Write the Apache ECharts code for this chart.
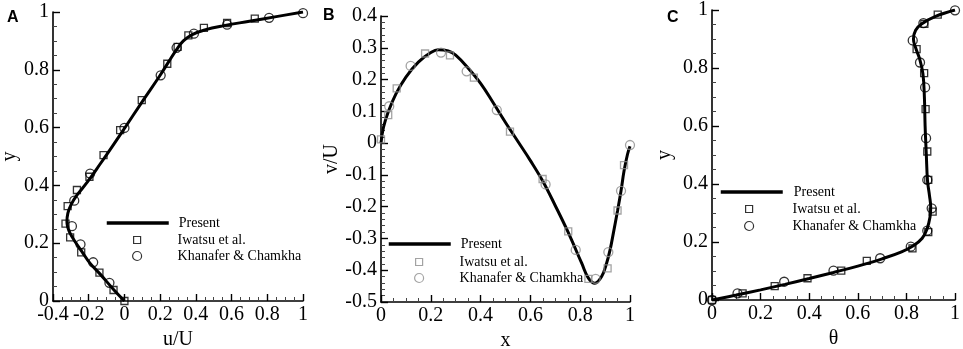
<!DOCTYPE html>
<html>
<head>
<meta charset="utf-8">
<script src="https://cdn.jsdelivr.net/npm/echarts@6/dist/echarts.min.js"></script>
<style>
  html, body { margin: 0; padding: 0; background: #fff; }
  #chart { width: 963px; height: 349px; }
</style>
</head>
<body>
<div id="chart"></div>
<script>
// panel A: u/U against y
const presentA = [[0, 0], [-0.061, 0.04], [-0.136, 0.093], [-0.192, 0.13], [-0.238, 0.171], [-0.276, 0.205], [-0.304, 0.234], [-0.318, 0.257], [-0.322, 0.274], [-0.317, 0.303], [-0.3, 0.332], [-0.266, 0.366], [-0.207, 0.412], [-0.136, 0.474], [-0.061, 0.541], [0, 0.597], [0.1, 0.69], [0.2, 0.781], [0.25, 0.83], [0.29, 0.868], [0.33, 0.9], [0.38, 0.922], [0.45, 0.938], [0.55, 0.952], [0.7, 0.968], [0.85, 0.984], [1, 1]]
const iwatsuA = [[0, 0], [-0.061, 0.038], [-0.14, 0.098], [-0.242, 0.168], [-0.304, 0.22], [-0.33, 0.268], [-0.318, 0.328], [-0.266, 0.384], [-0.196, 0.43], [-0.117, 0.505], [-0.024, 0.591], [0.097, 0.695], [0.24, 0.821], [0.298, 0.879], [0.358, 0.919], [0.445, 0.945], [0.575, 0.962], [0.73, 0.977]]
const khanaferA = [[-0.084, 0.063], [-0.175, 0.134], [-0.246, 0.196], [-0.294, 0.259], [-0.281, 0.347], [-0.192, 0.441], [0, 0.599], [0.203, 0.781], [0.292, 0.876], [0.389, 0.925], [0.575, 0.956], [0.81, 0.98], [1, 0.996]]

// panel B: x against v/U
const presentB = [[0, 0], [0.01, 0.05], [0.03, 0.1], [0.06, 0.155], [0.1, 0.208], [0.15, 0.255], [0.2, 0.285], [0.23, 0.294], [0.27, 0.29], [0.3, 0.277], [0.35, 0.236], [0.4, 0.188], [0.45, 0.128], [0.5, 0.065], [0.55, 0.005], [0.6, -0.055], [0.65, -0.12], [0.7, -0.197], [0.75, -0.278], [0.806, -0.378], [0.833, -0.425], [0.859, -0.441], [0.886, -0.42], [0.906, -0.378], [0.92, -0.336], [0.933, -0.284], [0.95, -0.213], [0.964, -0.15], [0.976, -0.088], [0.99, -0.035], [1, -0.01]]
const iwatsuB = [[0, 0.012], [0.029, 0.088], [0.063, 0.172], [0.177, 0.282], [0.277, 0.276], [0.373, 0.206], [0.518, 0.036], [0.649, -0.113], [0.752, -0.278], [0.833, -0.427], [0.91, -0.394], [0.95, -0.212], [0.976, -0.069]]
const khanaferB = [[0.033, 0.116], [0.119, 0.243], [0.241, 0.285], [0.344, 0.226], [0.465, 0.104], [0.661, -0.13], [0.782, -0.336], [0.862, -0.427], [0.913, -0.343], [0.964, -0.15], [1, -0.006]]

// panel C: theta against y
const presentC = [[0, 0], [0.1, 0.017], [0.2, 0.035], [0.3, 0.054], [0.4, 0.074], [0.5, 0.095], [0.6, 0.117], [0.7, 0.142], [0.78, 0.166], [0.83, 0.188], [0.865, 0.213], [0.885, 0.245], [0.897, 0.285], [0.9, 0.32], [0.895, 0.36], [0.887, 0.41], [0.882, 0.5], [0.877, 0.6], [0.874, 0.7], [0.868, 0.78], [0.855, 0.83], [0.838, 0.87], [0.829, 0.9], [0.838, 0.93], [0.862, 0.952], [0.92, 0.978], [1, 1]]
const iwatsuC = [[0, 0], [0.126, 0.023], [0.258, 0.048], [0.393, 0.075], [0.532, 0.101], [0.637, 0.135], [0.825, 0.178], [0.89, 0.234], [0.908, 0.305], [0.89, 0.414], [0.886, 0.512], [0.879, 0.658], [0.873, 0.782], [0.842, 0.865], [0.874, 0.952], [0.929, 0.984]]
const khanaferC = [[0, 0], [0.105, 0.023], [0.297, 0.063], [0.5, 0.101], [0.692, 0.144], [0.818, 0.184], [0.886, 0.239], [0.904, 0.316], [0.886, 0.414], [0.881, 0.558], [0.877, 0.733], [0.856, 0.819], [0.826, 0.895], [0.87, 0.955], [1, 0.999]]

const seriesNames = ['Present', 'Iwatsu et al.', 'Khanafer & Chamkha']
const panelLetters = ['A', 'B', 'C']
const xNames = ['u/U', 'x', 'θ']
const yNames = ['y', 'v/U', 'y']

const serif = 'Liberation Serif'

function makeAxis(min, max, interval, name, nameGap, minorSplit) {
  return {
    type: 'value',
    min: min,
    max: max,
    interval: interval,
    name: name,
    nameLocation: 'middle',
    nameGap: nameGap,
    nameTextStyle: { fontFamily: serif, fontSize: 20, color: '#000' },
    axisLine: { show: true, onZero: false, lineStyle: { color: '#000', width: 1.6 } },
    axisTick: { show: true, inside: true, length: 7, lineStyle: { color: '#000', width: 1.4 } },
    minorTick: { show: true, splitNumber: minorSplit, length: 4, lineStyle: { color: '#444', width: 1 } },
    splitLine: { show: false },
    axisLabel: {
      fontFamily: serif,
      fontSize: 20,
      color: '#000',
      margin: 4,
      showMinLabel: true,
      showMaxLabel: true,
      hideOverlap: false
    }
  }
}

function legendRow(name, left, top, size, padLeft, itemStyle) {
  const item = { name: name }
  if (itemStyle) item.itemStyle = itemStyle
  return {
    data: [item],
    left: left,
    top: top,
    orient: 'vertical',
    padding: 0,
    itemWidth: size[0],
    itemHeight: size[1],
    selectedMode: false,
    lineStyle: { width: 3.5 },
    textStyle: { fontFamily: serif, fontSize: 14, color: '#000', lineHeight: 16, padding: [0, 0, 0, padLeft] }
  }
}

const grids = [
  { left: 53, top: 12, width: 250, height: 289 },
  { left: 381, top: 16, width: 249, height: 286 },
  { left: 712, top: 10, width: 243, height: 290 }
]

// legend placement: line start, symbol centre, text start, row centres
const legendPos = [
  { line: 105, sym: 136, text: 177, rows: [223, 240, 256], color: null },
  { line: 387, sym: 418, text: 459, rows: [244, 262, 278], color: '#8c8c8c' },
  { line: 719, sym: 748, text: 792, rows: [192, 209, 226], color: null }
]

const data = [
  [presentA, iwatsuA, khanaferA],
  [presentB, iwatsuB, khanaferB],
  [presentC, iwatsuC, khanaferC]
]

const sqSize = 7
const ciSize = 9

const option = {
  animation: false,
  backgroundColor: '#fff',
  title: [
    { text: panelLetters[0], left: 7, top: 10 },
    { text: panelLetters[1], left: 323, top: 8 },
    { text: panelLetters[2], left: 667, top: 10 }
  ].map(t => Object.assign(t, {
    padding: 0,
    textStyle: { fontFamily: 'Liberation Sans', fontWeight: 'bold', fontSize: 16, color: '#000' }
  })),
  grid: grids.map(g => Object.assign({ containLabel: false, outerBoundsMode: 'none' }, g)),
  xAxis: [
    Object.assign(makeAxis(-0.4, 1, 0.2, xNames[0], 28, 4), { gridIndex: 0 }),
    Object.assign(makeAxis(0, 1, 0.2, xNames[1], 28, 4), { gridIndex: 1 }),
    Object.assign(makeAxis(0, 1, 0.2, xNames[2], 27, 4), { gridIndex: 2 })
  ],
  yAxis: [
    Object.assign(makeAxis(0, 1, 0.2, yNames[0], 31, 4), { gridIndex: 0 }),
    Object.assign(makeAxis(-0.5, 0.4, 0.1, yNames[1], 37, 5), { gridIndex: 1 }),
    Object.assign(makeAxis(0, 1, 0.2, yNames[2], 37, 4), { gridIndex: 2 })
  ],
  legend: [],
  series: []
}

data.forEach((panel, idx) => {
  const markColor = legendPos[idx].color || '#000'
  option.series.push({
    name: seriesNames[0],
    type: 'line',
    xAxisIndex: idx,
    yAxisIndex: idx,
    data: panel[0],
    smooth: 0.4,
    symbol: 'none',
    lineStyle: { color: '#000', width: 3 },
    itemStyle: { color: '#000' },
    z: 2
  })
  option.series.push({
    name: seriesNames[1],
    type: 'scatter',
    xAxisIndex: idx,
    yAxisIndex: idx,
    data: panel[1],
    symbol: 'rect',
    symbolSize: sqSize,
    itemStyle: { color: 'rgba(0,0,0,0)', borderColor: markColor, borderWidth: 1.3 },
    z: 3
  })
  option.series.push({
    name: seriesNames[2],
    type: 'scatter',
    xAxisIndex: idx,
    yAxisIndex: idx,
    data: panel[2],
    symbol: 'circle',
    symbolSize: ciSize,
    itemStyle: { color: 'rgba(0,0,0,0)', borderColor: markColor, borderWidth: 1.3 },
    z: 3
  })

  const lp = legendPos[idx]
  const markStyle = { borderColor: lp.color || '#000', borderWidth: 1.2 }
  const hs = Math.floor(sqSize / 2)
  const hc = Math.floor(ciSize / 2)
  option.legend.push(legendRow(seriesNames[0], lp.line, lp.rows[0] - 8, [62, 2], lp.text - lp.line - 67,
    { color: 'rgba(0,0,0,0)', borderColor: 'rgba(0,0,0,0)' }))
  option.legend.push(legendRow(seriesNames[1], lp.sym - hs, lp.rows[1] - 8, [sqSize, sqSize], lp.text - (lp.sym - hs) - sqSize - 5, markStyle))
  option.legend.push(legendRow(seriesNames[2], lp.sym - hc, lp.rows[2] - 8, [ciSize, ciSize], lp.text - (lp.sym - hc) - ciSize - 5, markStyle))
})

const myChart = echarts.init(document.getElementById('chart'))
myChart.setOption(option)
</script>
</body>
</html>
